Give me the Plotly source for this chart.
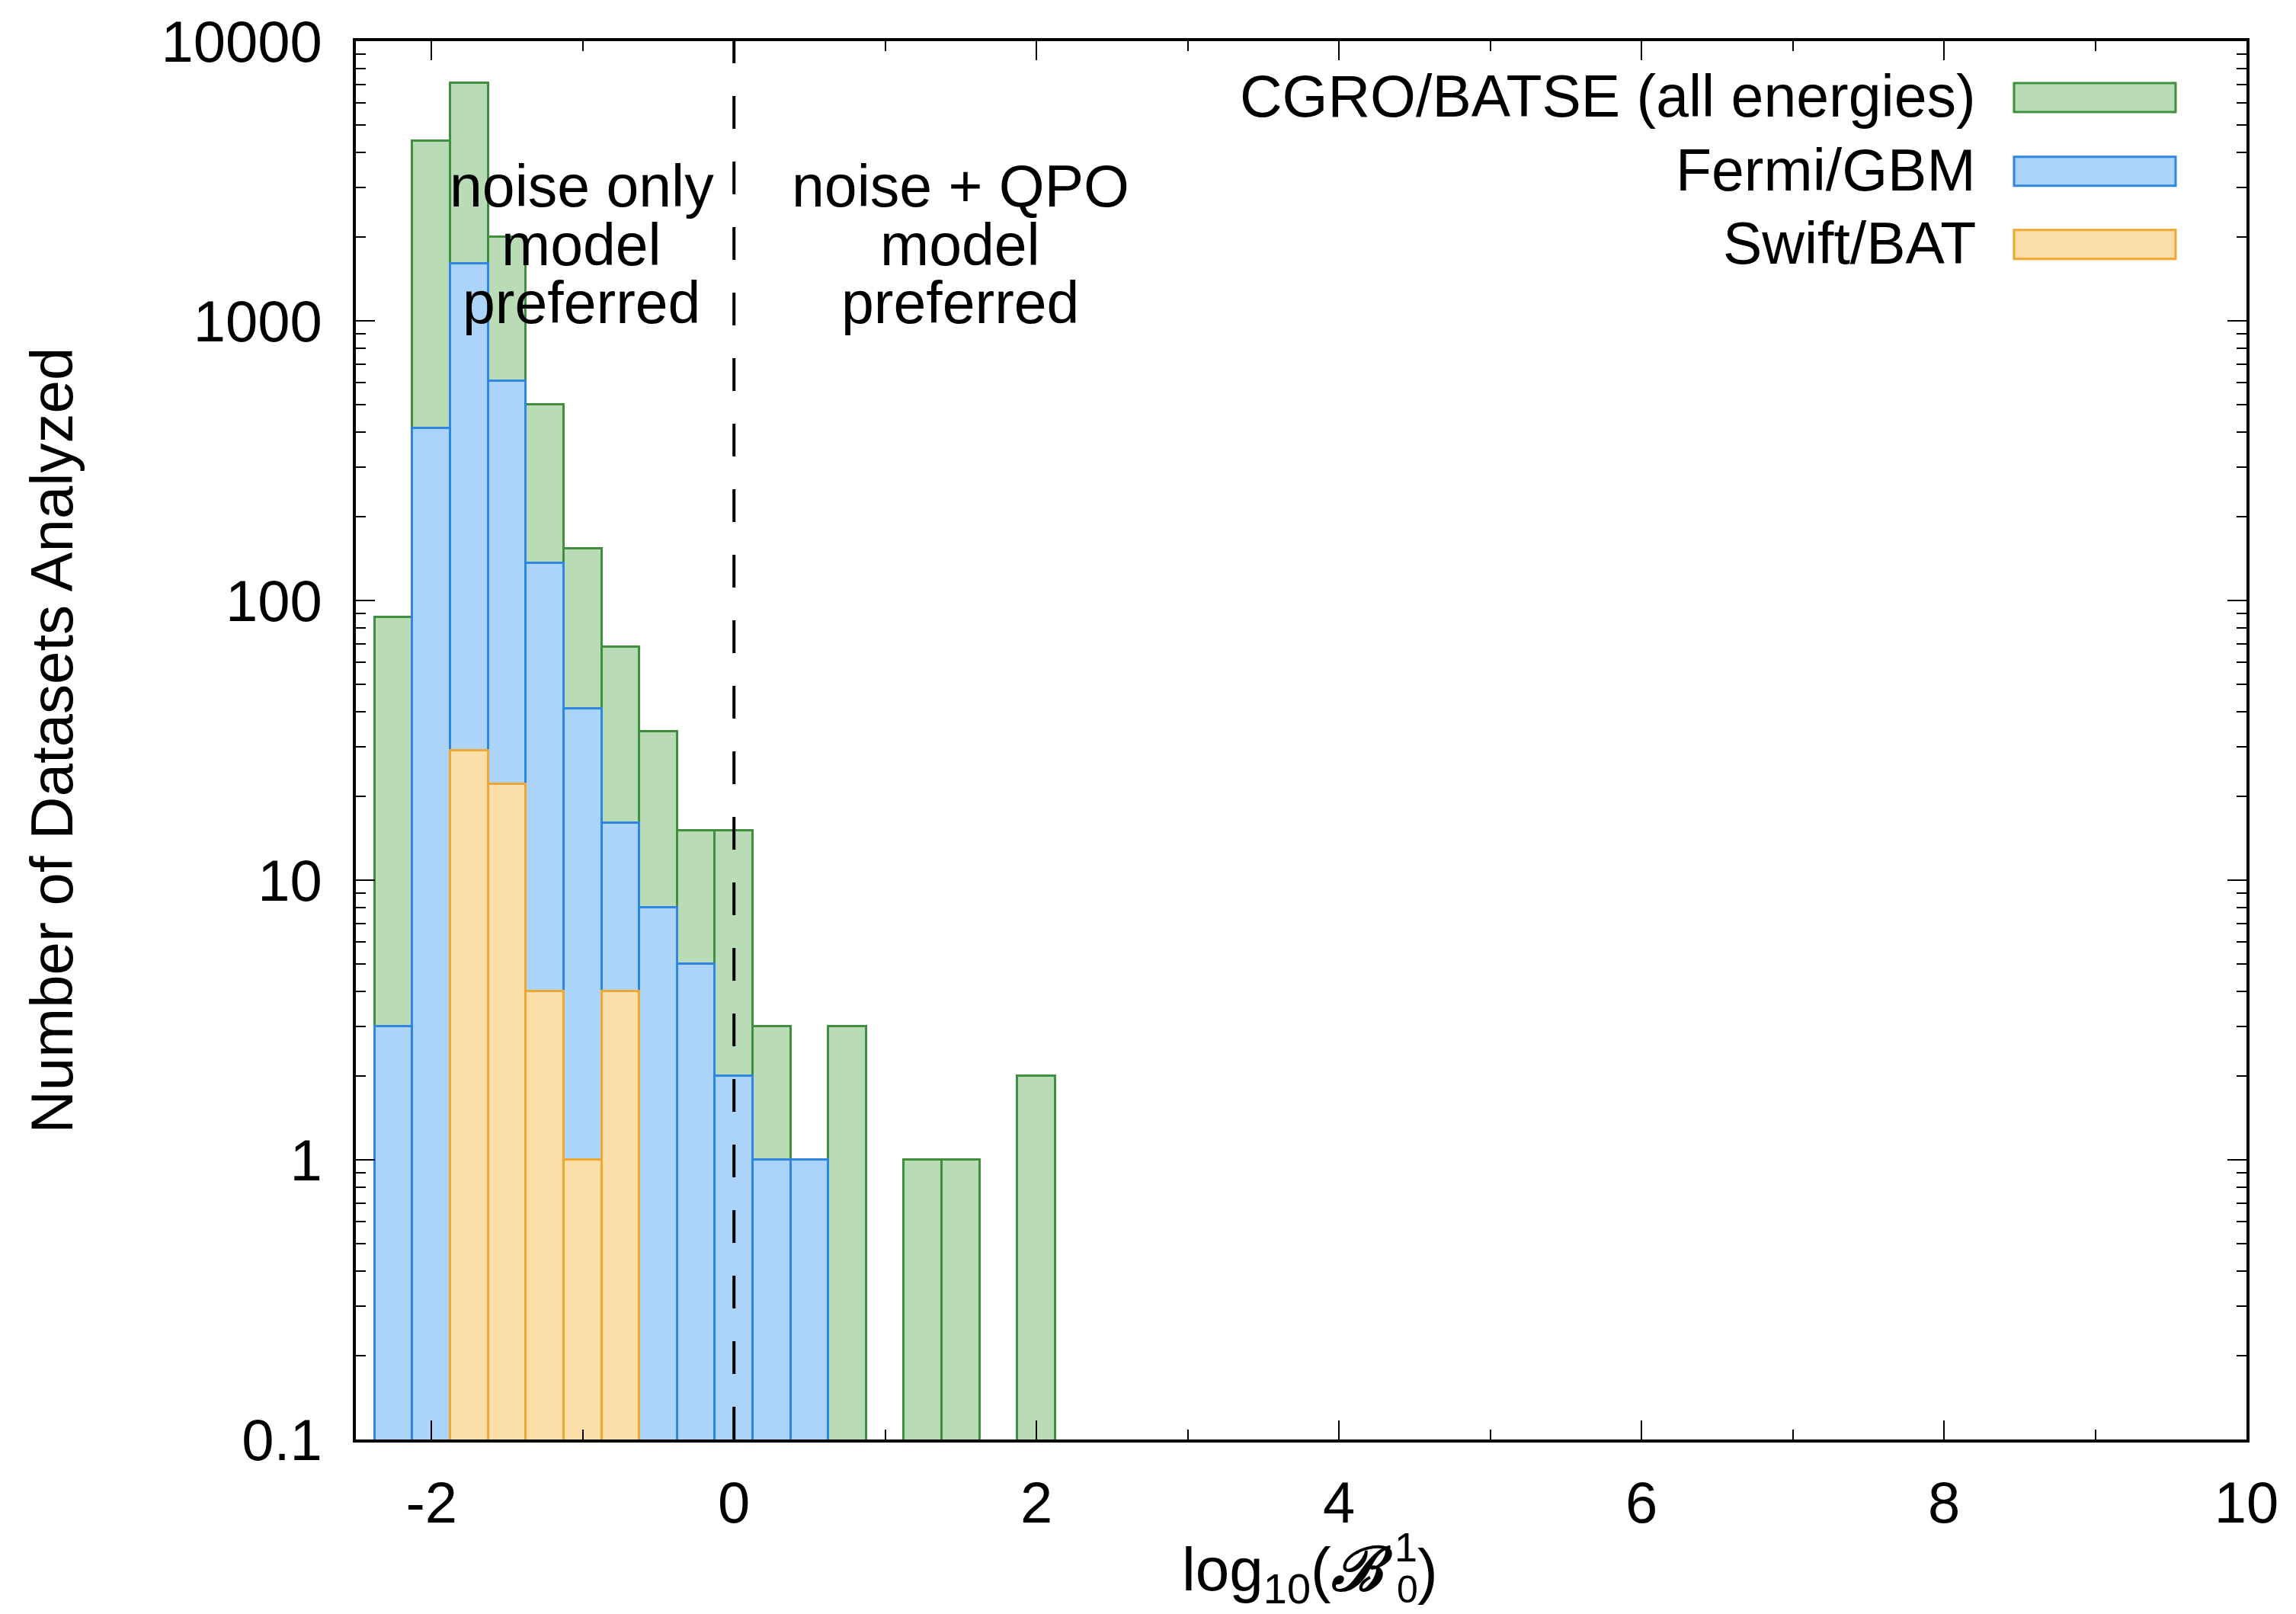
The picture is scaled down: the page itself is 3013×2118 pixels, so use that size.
import plotly.graph_objects as go

# Histogram bin centres (log10 Bayes factor), bin width 0.25
bin_centers = [-2.25, -2.0, -1.75, -1.5, -1.25, -1.0, -0.75, -0.5, -0.25,
               0.0, 0.25, 0.5, 0.75, 1.0, 1.25, 1.5, 1.75, 2.0]
bin_width = 0.25

# Counts per bin for each instrument (None = empty bin)
batse_counts = [87, 4400, 7100, 2000, 500, 153, 68, 34, 15,
                15, 3, None, 3, None, 1, 1, None, 2]
gbm_counts = [3, 414, 1600, 610, 136, 41, 16, 8, 5,
              2, 1, 1, None, None, None, None, None, None]
bat_counts = [None, None, 29, 22, 4, 1, 4, None, None,
              None, None, None, None, None, None, None, None, None]

series_names = ["CGRO/BATSE (all energies)", "Fermi/GBM", "Swift/BAT"]
fill_colors = ["#b9dcb6", "#acd4fb", "#fcdfa8"]
edge_colors = ["#3f8f3f", "#2f85e3", "#f0a732"]

x_tickvals = [-2, 0, 2, 4, 6, 8, 10]
x_ticktext = ["-2", "0", "2", "4", "6", "8", "10"]
y_tickvals = [0.1, 1, 10, 100, 1000, 10000]
y_ticktext = ["0.1", "1", "10", "100", "1000", "10000"]

region_left = ["noise only", "model", "preferred"]
region_right = ["noise + QPO", "model", "preferred"]

FONT = "Liberation Sans, Arial, Helvetica, sans-serif"
W, H = 3013, 2118
L, R, T, B = 467, 65, 52, 229
PW, PH = W - L - R, H - T - B


def fx(p):
    return (p - L) / PW


def fy(p):
    return (H - B - p) / PH


fig = go.Figure()
for name, counts, fc, ec in zip(series_names,
                                [batse_counts, gbm_counts, bat_counts],
                                fill_colors, edge_colors):
    fig.add_trace(go.Bar(
        x=bin_centers, y=counts, width=bin_width, name=name,
        marker=dict(color=fc, line=dict(color=ec, width=3)),
        showlegend=False,
    ))

minor_y = [m * 10 ** e for e in range(-1, 4) for m in range(2, 10)]

axis_common = dict(
    showline=True, linecolor="black", linewidth=4, mirror="ticks",
    ticks="inside", tickcolor="black", tickwidth=2, showgrid=False,
    zeroline=False, tickfont=dict(family=FONT, size=76, color="black"),
)

fig.update_xaxes(
    range=[-2.5, 10], tickmode="array", tickvals=x_tickvals,
    ticktext=x_ticktext, ticklen=25, ticklabelstandoff=14,
    minor=dict(tickvals=[-1, 1, 3, 5, 7, 9], ticks="inside", ticklen=13,
               tickwidth=2, tickcolor="black"),
    **axis_common,
)
fig.update_yaxes(
    type="log", range=[-1, 4], tickmode="array", tickvals=y_tickvals,
    ticktext=y_ticktext, ticklen=25, ticklabelstandoff=25,
    minor=dict(tickvals=minor_y, ticks="inside", ticklen=13,
               tickwidth=2, tickcolor="black"),
    **axis_common,
)

shapes = [dict(type="line", xref="x", yref="paper", x0=0, x1=0, y0=0, y1=1,
               line=dict(color="black", width=4, dash="43px,43px"),
               layer="above")]
annotations = []

# Legend drawn as right-aligned labels with swatches
row_y = [126, 223, 319]
for name, fc, ec, ry in zip(series_names, fill_colors, edge_colors, row_y):
    shapes.append(dict(type="rect", xref="paper", yref="paper",
                       x0=fx(2643), x1=fx(2855), y0=fy(ry + 19), y1=fy(ry - 19),
                       fillcolor=fc, line=dict(color=ec, width=3)))
    annotations.append(dict(text=name, xref="paper", yref="paper",
                            x=fx(2595), y=fy(ry - 2), xanchor="right",
                            yanchor="middle", showarrow=False,
                            font=dict(family=FONT, size=77, color="black")))

# Region labels either side of the decision line
line_y = [242, 319, 395]
for txt_l, txt_r, ly in zip(region_left, region_right, line_y):
    for txt, cx in ((txt_l, 763), (txt_r, 1260)):
        annotations.append(dict(text=txt, xref="paper", yref="paper",
                                x=fx(cx), y=fy(ly), xanchor="center",
                                yanchor="middle", showarrow=False,
                                font=dict(family=FONT, size=77, color="black")))

# Axis titles
annotations.append(dict(text="Number of Datasets Analyzed", xref="paper",
                        yref="paper", x=fx(67), y=0.5, textangle=-90,
                        xanchor="center", yanchor="middle", showarrow=False,
                        font=dict(family=FONT, size=78, color="black")))
annotations.append(dict(text="log<sub>10</sub>(<b><i>ℬ</i></b>", xref="paper",
                        yref="paper", x=fx(1830), y=fy(2066), xanchor="right",
                        yanchor="middle", showarrow=False,
                        font=dict(family=FONT, size=80, color="black")))
annotations.append(dict(text="1", xref="paper", yref="paper", x=fx(1828),
                        y=fy(2030), xanchor="left", yanchor="middle",
                        showarrow=False,
                        font=dict(family=FONT, size=54, color="black")))
annotations.append(dict(text="0", xref="paper", yref="paper", x=fx(1831),
                        y=fy(2086), xanchor="left", yanchor="middle",
                        showarrow=False,
                        font=dict(family=FONT, size=50, color="black")))
annotations.append(dict(text=")", xref="paper", yref="paper", x=fx(1858),
                        y=fy(2062), xanchor="left", yanchor="middle",
                        showarrow=False,
                        font=dict(family=FONT, size=80, color="black")))

fig.update_layout(
    width=W, height=H, autosize=False,
    margin=dict(l=L, r=R, t=T, b=B, pad=0),
    barmode="overlay", bargap=0,
    plot_bgcolor="white", paper_bgcolor="white",
    shapes=shapes, annotations=annotations,
    font=dict(family=FONT, size=76, color="black"),
)

fig.write_html("out.html")
